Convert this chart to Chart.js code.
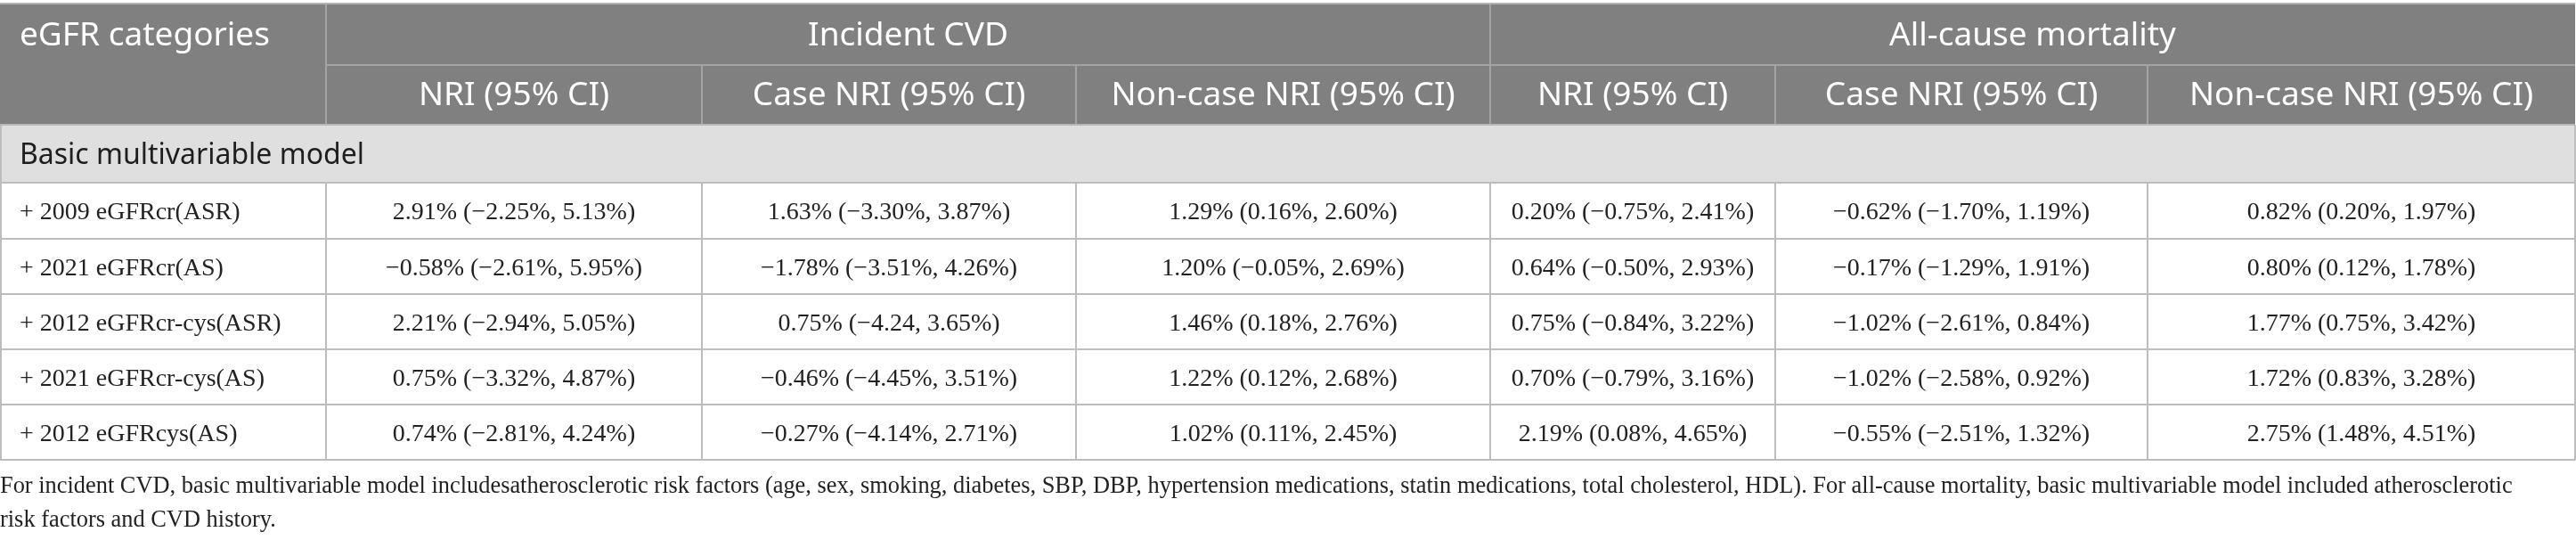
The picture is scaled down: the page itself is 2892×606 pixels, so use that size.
<!DOCTYPE html>
<html>
<head>
<meta charset="utf-8">
<script src="https://cdn.jsdelivr.net/npm/chart.js@4.4.1/dist/chart.umd.min.js"></script>
<style>
  html, body { margin: 0; padding: 0; background: #ffffff; }
  #wrap { width: 2892px; height: 606px; position: relative; }
</style>
</head>
<body>
<div id="wrap"><canvas id="nri_table"></canvas></div>
<script>
// table content
var groupHeaders = ['Incident CVD', 'All-cause mortality'];
var colHeaders = ['NRI (95% CI)', 'Case NRI (95% CI)', 'Non-case NRI (95% CI)',
                  'NRI (95% CI)', 'Case NRI (95% CI)', 'Non-case NRI (95% CI)'];
var firstHeader = 'eGFR categories';
var sectionLabel = 'Basic multivariable model';
var rowLabels = ['+ 2009 eGFRcr(ASR)', '+ 2021 eGFRcr(AS)', '+ 2012 eGFRcr-cys(ASR)',
                 '+ 2021 eGFRcr-cys(AS)', '+ 2012 eGFRcys(AS)'];

var cvdNri = ['2.91% (\u22122.25%, 5.13%)', '\u22120.58% (\u22122.61%, 5.95%)', '2.21% (\u22122.94%, 5.05%)',
              '0.75% (\u22123.32%, 4.87%)', '0.74% (\u22122.81%, 4.24%)'];
var cvdCase = ['1.63% (\u22123.30%, 3.87%)', '\u22121.78% (\u22123.51%, 4.26%)', '0.75% (\u22124.24, 3.65%)',
               '\u22120.46% (\u22124.45%, 3.51%)', '\u22120.27% (\u22124.14%, 2.71%)'];
var cvdNonCase = ['1.29% (0.16%, 2.60%)', '1.20% (\u22120.05%, 2.69%)', '1.46% (0.18%, 2.76%)',
                  '1.22% (0.12%, 2.68%)', '1.02% (0.11%, 2.45%)'];
var mortNri = ['0.20% (\u22120.75%, 2.41%)', '0.64% (\u22120.50%, 2.93%)', '0.75% (\u22120.84%, 3.22%)',
               '0.70% (\u22120.79%, 3.16%)', '2.19% (0.08%, 4.65%)'];
var mortCase = ['\u22120.62% (\u22121.70%, 1.19%)', '\u22120.17% (\u22121.29%, 1.91%)', '\u22121.02% (\u22122.61%, 0.84%)',
                '\u22121.02% (\u22122.58%, 0.92%)', '\u22120.55% (\u22122.51%, 1.32%)'];
var mortNonCase = ['0.82% (0.20%, 1.97%)', '0.80% (0.12%, 1.78%)', '1.77% (0.75%, 3.42%)',
                   '1.72% (0.83%, 3.28%)', '2.75% (1.48%, 4.51%)'];

var footnote = ['For incident CVD, basic multivariable model includesatherosclerotic risk factors (age, sex, smoking, diabetes, SBP, DBP, hypertension medications, statin medications, total cholesterol, HDL). For all-cause mortality, basic multivariable model included atherosclerotic',
                'risk factors and CVD history.'];

// layout (in scale units, matched to the 2892x606 picture)
var colEdges = [0, 366, 788, 1208, 1673, 1993, 2411, 2891];
var rowEdges = [4, 73, 140, 205, 268, 330, 392, 454, 516];
var footY = [546, 584];

var columns = [cvdNri, cvdCase, cvdNonCase, mortNri, mortCase, mortNonCase];

var SANS = '"Noto Sans", "Open Sans", sans-serif';
var SERIF = '"Liberation Serif", "DejaVu Serif", serif';

var tablePlugin = {
    id: 'tablePlugin',
    afterDraw: function(chart){
        var ctx = chart.ctx;
        var xs = chart.scales.x, ys = chart.scales.y;
        function X(v){ return xs.getPixelForValue(v); }
        function Y(v){ return ys.getPixelForValue(v); }
        function rect(x0, y0, x1, y1, color){
            ctx.fillStyle = color;
            ctx.fillRect(X(x0), Y(y0), X(x1) - X(x0), Y(y1) - Y(y0));
        }
        function line(x0, y0, x1, y1, color){
            ctx.strokeStyle = color;
            ctx.lineWidth = 2;
            ctx.beginPath();
            ctx.moveTo(X(x0), Y(y0));
            ctx.lineTo(X(x1), Y(y1));
            ctx.stroke();
        }
        function text(str, x, y, align, font, color){
            ctx.font = font;
            ctx.fillStyle = color;
            ctx.textAlign = align;
            ctx.textBaseline = 'middle';
            ctx.fillText(str, X(x), Y(y));
        }
        var L = colEdges[0], R = colEdges[colEdges.length-1];
        ctx.save();

        //header band
        rect(L, rowEdges[0], R, rowEdges[2], '#7f807f');
        //section band
        rect(L, rowEdges[2], R, rowEdges[3], '#e0dfe0');

        //header lines
        var hl = '#a3a4a3';
        line(colEdges[1], rowEdges[1], R, rowEdges[1], hl);
        line(colEdges[1], rowEdges[0], colEdges[1], rowEdges[2], hl);
        line(colEdges[4], rowEdges[0], colEdges[4], rowEdges[2], hl);
        for(var c=2; c<colEdges.length-1; c++){
            line(colEdges[c], rowEdges[1], colEdges[c], rowEdges[2], hl);
        }

        //body lines
        var bl = '#bdbdbd';
        for(var r=3; r<rowEdges.length; r++){
            line(L, rowEdges[r], R, rowEdges[r], bl);
        }
        for(var c=1; c<colEdges.length-1; c++){
            line(colEdges[c], rowEdges[3], colEdges[c], rowEdges[rowEdges.length-1], bl);
        }
        line(L+1, rowEdges[2], L+1, rowEdges[rowEdges.length-1], bl);
        line(R, rowEdges[2], R, rowEdges[rowEdges.length-1], bl);
        //outer top border
        line(L, rowEdges[0], R, rowEdges[0], '#b4b4b4');
        line(L, rowEdges[2], R, rowEdges[2], '#b8b8b8');

        //header text
        var hf = '37px ' + SANS;
        text(firstHeader, 22, 40, 'left', hf, '#ffffff');
        text(groupHeaders[0], (colEdges[1]+colEdges[4])/2, 40, 'center', hf, '#ffffff');
        text(groupHeaders[1], (colEdges[4]+colEdges[7])/2, 40, 'center', hf, '#ffffff');
        for(var c=0; c<colHeaders.length; c++){
            text(colHeaders[c], (colEdges[c+1]+colEdges[c+2])/2, 107, 'center', hf, '#ffffff');
        }
        text(sectionLabel, 22, 175, 'left', '32px ' + SANS, '#1e1e1e');

        //body text
        var bf = '28px ' + SERIF;
        for(var r=0; r<rowLabels.length; r++){
            var cy = (rowEdges[r+3] + rowEdges[r+4])/2 + 2.5;
            text(rowLabels[r], 22, cy, 'left', bf, '#222222');
            for(var c=0; c<columns.length; c++){
                text(columns[c][r], (colEdges[c+1]+colEdges[c+2])/2, cy, 'center', bf, '#222222');
            }
        }

        //footnote
        var ff = '26.4px ' + SERIF;
        for(var i=0; i<footnote.length; i++){
            text(footnote[i], 0, footY[i], 'left', ff, '#222222');
        }
        ctx.restore();
    }
};

var chart;
function drawChart(){
    chart = new Chart(document.getElementById('nri_table').getContext('2d'), {
        type: 'scatter',
        data: { datasets: [{ data: [], pointRadius: 0 }] },
        options: {
            responsive: true,
            maintainAspectRatio: false,
            animation: false,
            layout: { padding: 0 },
            scales: {
                x: { type: 'linear', min: 0, max: 2892, display: false },
                y: { type: 'linear', min: 0, max: 606, reverse: true, display: false }
            },
            plugins: { legend: { display: false }, tooltip: { enabled: false } }
        },
        plugins: [tablePlugin]
    });
}

//make sure the local fonts are ready before drawing on the canvas
Promise.all([
    document.fonts.load('37px "Noto Sans"'),
    document.fonts.load('28px "Liberation Serif"')
]).then(drawChart, drawChart);
</script>
</body>
</html>
